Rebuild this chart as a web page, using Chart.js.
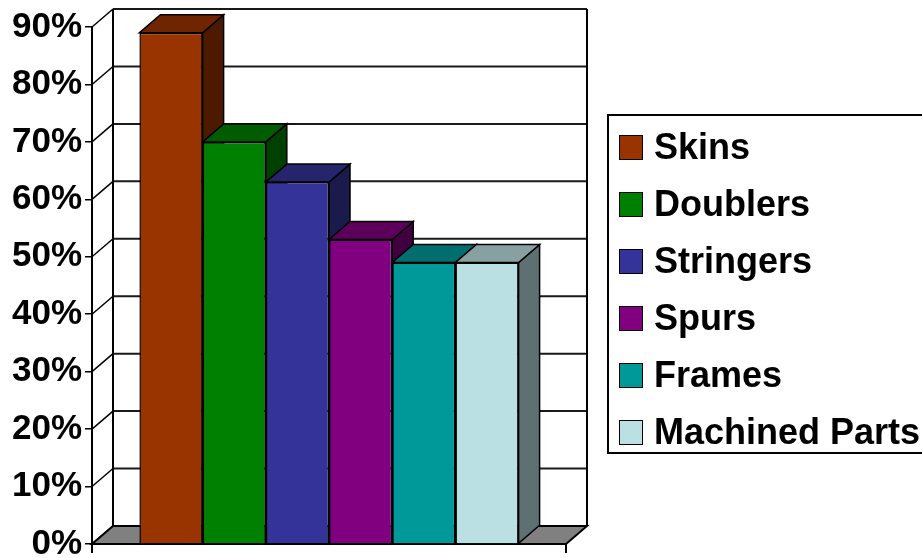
<!DOCTYPE html>
<html>
<head>
<meta charset="utf-8">
<script src="https://cdn.jsdelivr.net/npm/chart.js@4.4.0/dist/chart.umd.min.js"></script>
<style>
	html, body { margin: 0; padding: 0; background: #fff; overflow: hidden; }
	#wrap { position: relative; width: 922px; height: 558px; overflow: hidden; }
	#legend {
		position: absolute; left: 607px; top: 114px; width: 340px; height: 340px;
		border: 2px solid #000; padding: 2.5px 0 0 10px; box-sizing: border-box;
		font: bold 36px "Liberation Sans", Arial, sans-serif; color: #000;
	}
	.item { height: 57px; display: flex; align-items: center; white-space: nowrap; }
	.swatch { width: 24px; height: 25px; border: 1.5px solid #000; box-sizing: border-box; margin-right: 11px; flex: none; }
</style>
</head>
<body>
<div id="wrap">
	<canvas id="chart" width="922" height="558"></canvas>
	<div id="legend"></div>
</div>
<script>
	const categories = [''];
	const seriesNames = ['Skins', 'Doublers', 'Stringers', 'Spurs', 'Frames', 'Machined Parts'];
	const seriesValues = [89, 70, 63, 53, 49, 49];
	const seriesColors = ['#993300', '#008000', '#333399', '#800080', '#009999', '#bbe0e3'];
	const yMax = 90;
	const yStep = 10;

	const depthX = 21;
	const depthY = -18;

	function shade(hex, factor) {
		const n = parseInt(hex.slice(1), 16);
		const r = Math.round(((n >> 16) & 255) * factor);
		const g = Math.round(((n >> 8) & 255) * factor);
		const b = Math.round((n & 255) * factor);
		return `rgb(${r},${g},${b})`;
	}

	// draws floor, walls and the side/top faces of the columns
	const threeD = {
		id: 'threeD',
		beforeDatasetsDraw(chart) {
			const { ctx, chartArea: { left, right, top, bottom }, scales: { y } } = chart;

			function poly(points, fill, width) {
				ctx.beginPath();
				points.forEach(([px, py], i) => i ? ctx.lineTo(px, py) : ctx.moveTo(px, py));
				ctx.closePath();
				ctx.fillStyle = fill;
				ctx.fill();
				ctx.lineWidth = width || 1.5;
				ctx.strokeStyle = '#000';
				ctx.stroke();
			}
			function line(x1, y1, x2, y2, color, width) {
				ctx.beginPath();
				ctx.moveTo(x1, y1);
				ctx.lineTo(x2, y2);
				ctx.strokeStyle = color;
				ctx.lineWidth = width;
				ctx.stroke();
			}

			ctx.save();
			y.ticks.forEach((tick) => {
				const py = y.getPixelForValue(tick.value);
				line(left, py, left + depthX, py + depthY, '#000', 1.5);
				if (tick.value > 0) {
					line(left + depthX, py + depthY, right + depthX, py + depthY, '#1a1a1a', 2);
				}
			});
			line(left + depthX, top + depthY, left + depthX, bottom + depthY, '#000', 2);
			line(right + depthX, top + depthY, right + depthX, bottom + depthY, '#000', 2);
			poly([[left, bottom], [right, bottom], [right + depthX, bottom + depthY], [left + depthX, bottom + depthY]], '#808080', 2);

			chart.data.datasets.forEach((ds, i) => {
				const bar = chart.getDatasetMeta(i).data[0];
				const x1 = bar.x - bar.width / 2;
				const x2 = bar.x + bar.width / 2;
				const color = seriesColors[i];
				poly([[x2, bar.y], [x2 + depthX, bar.y + depthY], [x2 + depthX, bar.base + depthY], [x2, bar.base]], shade(color, 0.5));
				poly([[x1, bar.y], [x2, bar.y], [x2 + depthX, bar.y + depthY], [x1 + depthX, bar.y + depthY]], shade(color, 0.72));
			});
			ctx.restore();
		}
	};

	const chart = new Chart(document.getElementById('chart'), {
		type: 'bar',
		data: {
			labels: categories,
			datasets: seriesNames.map((name, i) => ({
				label: name,
				data: [seriesValues[i]],
				backgroundColor: seriesColors[i],
				borderColor: '#000',
				borderWidth: 1.5,
				categoryPercentage: 0.8,
				barPercentage: 1.0
			}))
		},
		options: {
			responsive: false,
			animation: false,
			layout: { padding: { left: 0, top: 27, right: 356, bottom: 0 } },
			plugins: {
				legend: { display: false },
				tooltip: { enabled: false }
			},
			scales: {
				x: {
					ticks: { display: false },
					grid: { offset: true, drawOnChartArea: false, tickLength: 9, color: '#000', lineWidth: 2 },
					border: { display: true, color: '#000', width: 2 },
					afterFit(scale) { scale.height = 14; }
				},
				y: {
					min: 0,
					max: yMax,
					ticks: {
						stepSize: yStep,
						padding: 3,
						color: '#000',
						font: { family: '"Liberation Sans", Arial, sans-serif', size: 35, weight: 'bold' },
						callback: (value) => value + '%'
					},
					grid: { drawOnChartArea: false, tickLength: 7, color: '#000', lineWidth: 1.5 },
					border: { display: true, color: '#000', width: 2 },
					afterFit(scale) {
						scale.width = 92;
						scale.paddingTop = 0;
						scale.paddingBottom = 0;
					}
				}
			}
		},
		plugins: [threeD]
	});

	const legendEl = document.getElementById('legend');
	chart.data.datasets.forEach((ds) => {
		const item = document.createElement('div');
		item.className = 'item';
		const swatch = document.createElement('span');
		swatch.className = 'swatch';
		swatch.style.background = ds.backgroundColor;
		const text = document.createElement('span');
		text.textContent = ds.label;
		item.appendChild(swatch);
		item.appendChild(text);
		legendEl.appendChild(item);
	});
</script>
</body>
</html>
